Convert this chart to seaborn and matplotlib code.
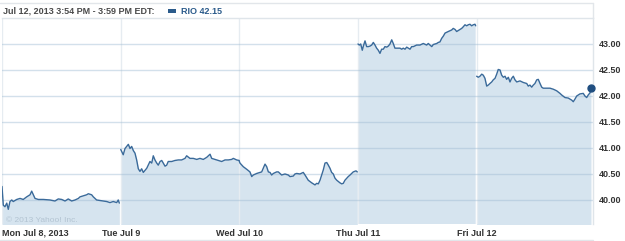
import matplotlib
matplotlib.use("Agg")
import matplotlib.pyplot as plt
import seaborn as sns
import pandas as pd
from matplotlib.lines import Line2D
from matplotlib.patches import Rectangle

# ---- data (time in trading days since Mon open, price in USD) ----
mon_t = [0.000, 0.011, 0.025, 0.040, 0.053, 0.067, 0.082, 0.095, 0.124, 0.152, 0.179, 0.208,
         0.236, 0.250, 0.264, 0.278, 0.306, 0.348, 0.404, 0.446, 0.474, 0.503, 0.531, 0.558,
         0.587, 0.615, 0.643, 0.657, 0.685, 0.713, 0.727, 0.755, 0.769, 0.797, 0.825, 0.853,
         0.882, 0.909, 0.937, 0.966, 0.979, 0.988]
mon_p = [40.26, 39.90, 39.87, 39.94, 39.82, 39.97, 40.00, 39.97, 40.01, 40.03, 40.01, 40.06,
         40.10, 40.17, 40.10, 40.03, 40.01, 40.01, 40.00, 39.98, 40.02, 40.01, 39.98, 40.02,
         39.98, 40.00, 40.03, 40.06, 40.08, 40.10, 40.12, 40.10, 40.06, 40.00, 39.99, 39.98,
         39.97, 39.95, 39.97, 39.95, 40.00, 39.94]

tue_t = [1.000, 1.021, 1.036, 1.064, 1.078, 1.092, 1.106, 1.120, 1.134, 1.148, 1.162, 1.176,
         1.190, 1.219, 1.246, 1.261, 1.274, 1.288, 1.303, 1.316, 1.331, 1.345, 1.358, 1.373,
         1.387, 1.400, 1.429, 1.457, 1.485, 1.513, 1.541, 1.555, 1.583, 1.611, 1.640, 1.667,
         1.695, 1.724, 1.752, 1.766, 1.794, 1.822, 1.850, 1.878, 1.906, 1.934, 1.948, 1.976,
         1.996]
tue_p = [40.97, 40.87, 40.99, 41.07, 40.99, 41.03, 40.95, 40.90, 40.77, 40.60, 40.55, 40.60,
         40.53, 40.61, 40.74, 40.71, 40.85, 40.77, 40.71, 40.67, 40.74, 40.76, 40.71, 40.65,
         40.67, 40.74, 40.74, 40.76, 40.77, 40.77, 40.80, 40.85, 40.80, 40.80, 40.78, 40.80,
         40.78, 40.82, 40.88, 40.80, 40.78, 40.76, 40.74, 40.77, 40.77, 40.78, 40.80, 40.77,
         40.76]

wed_t = [1.996, 2.004, 2.032, 2.061, 2.088, 2.103, 2.116, 2.145, 2.173, 2.187, 2.200, 2.215,
         2.229, 2.243, 2.257, 2.271, 2.285, 2.313, 2.327, 2.341, 2.355, 2.383, 2.411, 2.425,
         2.453, 2.467, 2.482, 2.509, 2.537, 2.552, 2.579, 2.608, 2.636, 2.650, 2.664, 2.678,
         2.692, 2.706, 2.720, 2.735, 2.748, 2.762, 2.776, 2.790, 2.804, 2.819, 2.846, 2.861,
         2.874, 2.888, 2.916, 2.931, 2.958, 2.981, 2.992]
wed_p = [40.76, 40.71, 40.64, 40.59, 40.54, 40.45, 40.48, 40.51, 40.53, 40.54, 40.61, 40.69,
         40.64, 40.54, 40.53, 40.48, 40.51, 40.54, 40.54, 40.51, 40.48, 40.50, 40.48, 40.45,
         40.46, 40.50, 40.51, 40.50, 40.53, 40.48, 40.38, 40.33, 40.29, 40.32, 40.31, 40.38,
         40.48, 40.58, 40.71, 40.72, 40.67, 40.61, 40.53, 40.50, 40.42, 40.38, 40.33, 40.31,
         40.32, 40.38, 40.45, 40.48, 40.54, 40.56, 40.54]

thu_t = [2.998, 3.009, 3.021, 3.034, 3.043, 3.057, 3.071, 3.085, 3.099, 3.113, 3.127, 3.141,
         3.155, 3.169, 3.183, 3.197, 3.211, 3.225, 3.240, 3.253, 3.267, 3.282, 3.295, 3.309,
         3.324, 3.352, 3.366, 3.379, 3.394, 3.408, 3.422, 3.436, 3.450, 3.464, 3.492, 3.520,
         3.548, 3.576, 3.590, 3.604, 3.619, 3.632, 3.661, 3.674, 3.688, 3.703, 3.716, 3.731,
         3.758, 3.787, 3.800, 3.815, 3.829, 3.843, 3.857, 3.871, 3.884, 3.899, 3.913, 3.927,
         3.941, 3.955, 3.969, 3.983, 3.989]
thu_p = [43.00, 42.98, 43.00, 42.88, 42.96, 43.06, 42.95, 42.95, 42.96, 42.98, 43.03, 42.98,
         42.92, 42.88, 42.82, 42.90, 42.90, 42.95, 42.94, 42.96, 43.00, 43.08, 43.01, 42.92,
         42.92, 42.92, 42.90, 42.92, 42.90, 42.94, 42.92, 42.90, 42.95, 42.95, 42.98, 42.98,
         43.01, 42.98, 43.01, 42.98, 42.95, 42.99, 43.01, 43.03, 43.04, 43.11, 43.15, 43.21,
         43.24, 43.27, 43.30, 43.28, 43.24, 43.26, 43.28, 43.30, 43.33, 43.37, 43.35, 43.37,
         43.38, 43.35, 43.37, 43.38, 43.35]

fri_t = [3.997, 4.011, 4.025, 4.040, 4.053, 4.067, 4.082, 4.095, 4.109, 4.124, 4.137, 4.152,
         4.166, 4.179, 4.194, 4.208, 4.222, 4.236, 4.250, 4.264, 4.278, 4.292, 4.306, 4.320,
         4.335, 4.362, 4.390, 4.419, 4.432, 4.446, 4.461, 4.474, 4.488, 4.503, 4.516, 4.531,
         4.545, 4.558, 4.587, 4.615, 4.643, 4.671, 4.699, 4.713, 4.741, 4.769, 4.798, 4.811,
         4.825, 4.840, 4.867, 4.895, 4.909, 4.924, 4.937, 4.952, 4.960]
fri_p = [42.38, 42.36, 42.38, 42.42, 42.40, 42.34, 42.19, 42.21, 42.24, 42.27, 42.31, 42.34,
         42.42, 42.51, 42.50, 42.40, 42.36, 42.38, 42.32, 42.36, 42.27, 42.34, 42.38, 42.31,
         42.27, 42.29, 42.26, 42.24, 42.19, 42.21, 42.17, 42.21, 42.24, 42.31, 42.32, 42.24,
         42.17, 42.15, 42.15, 42.15, 42.13, 42.10, 42.05, 42.02, 41.97, 41.96, 41.92, 41.89,
         41.94, 42.00, 42.04, 42.05, 42.00, 41.97, 42.02, 42.06, 42.15]

day_names = ["Mon", "Tue", "Wed", "Thu", "Fri"]
x_tick_pos = [0, 1, 2, 3, 4]
x_tick_labels = ["Mon Jul 8, 2013", "Tue Jul 9", "Wed Jul 10", "Thu Jul 11", "Fri Jul 12"]
y_ticks = [40.0, 40.5, 41.0, 41.5, 42.0, 42.5, 43.0]
last_price = 42.15
symbol = "RIO"
header_text = "Jul 12, 2013 3:54 PM - 3:59 PM EDT:"
credit = "\u00a9 2013 Yahoo! Inc."

# ---- build table ----
frames = []
for name, t, p in zip(day_names, [mon_t, tue_t, wed_t, thu_t, fri_t],
                      [mon_p, tue_p, wed_p, thu_p, fri_p]):
    frames.append(pd.DataFrame({"t": t, "price": p, "day": name}))
df = pd.concat(frames, ignore_index=True)

# ---- style ----
sns.set_theme(style="white")
plt.rcParams["font.family"] = ["Liberation Sans", "DejaVu Sans"]
plt.rcParams["axes.axisbelow"] = "line"

W, H = 625, 241
fig = plt.figure(figsize=(W / 100, H / 100), dpi=100)
fig.patch.set_facecolor("white")

def fx(px):
    return px / W

def fy(py):
    return 1 - py / H

ax = fig.add_axes([fx(2), fy(224), fx(593) - fx(2), fy(18) - fy(224)])
ax.set_facecolor("white")

LINE = "#3a6a9a"
FILL = "#d6e4ef"
YMIN, YMAX = 39.538, 43.5

for name, g in df.groupby("day", sort=False):
    ax.fill_between(g["t"], g["price"], YMIN - 1, color=FILL, lw=0, zorder=1)

sns.lineplot(data=df, x="t", y="price", units="day", estimator=None, color=LINE,
             linewidth=1.0, ax=ax, legend=False, zorder=3)

# last price dot
ax.plot([fri_t[-1]], [last_price], marker="o", markersize=5.0, color="#1f4e80",
        clip_on=False, zorder=4, linestyle="none")

ax.set_xlim(0, 4.977)
ax.set_ylim(YMIN, YMAX)

# grid
ax.set_yticks(y_ticks)
ax.set_yticklabels([f"{v:.2f}" for v in y_ticks])
ax.yaxis.tick_right()
ax.set_xticks(x_tick_pos)
ax.set_xticklabels(x_tick_labels)
ax.yaxis.grid(True, color="#9fbcd4", alpha=0.45, linewidth=1.0)
ax.xaxis.grid(True, color="#e6ecf1", linewidth=1.0)

ax.tick_params(axis="both", length=0, labelsize=6.5, labelcolor="#333333")
ax.tick_params(axis="y", pad=4)
ax.tick_params(axis="x", pad=3.5)
for lab in ax.get_yticklabels() + ax.get_xticklabels():
    lab.set_fontweight("bold")
ax.get_xticklabels()[0].set_horizontalalignment("left")
ax.set_xlabel("")
ax.set_ylabel("")

for side in ["left", "bottom"]:
    ax.spines[side].set_visible(False)
for side in ["top", "right"]:
    ax.spines[side].set_color("#dfe5ea")
    ax.spines[side].set_linewidth(1.0)

# watermark
ax.text(0.035, 39.6, credit, fontsize=6, color="#b3c4d2", ha="left", va="center", zorder=2)

# frame lines outside the axes
fig.add_artist(Line2D([0, fx(593)], [fy(3), fy(3)], color="#e2e6ea", lw=1.0))
fig.add_artist(Line2D([fx(593), fx(593)], [fy(3), fy(18)], color="#e2e6ea", lw=1.0))
fig.add_artist(Line2D([0, fx(593)], [fy(240), fy(240)], color="#e2e6ea", lw=1.0))

# header
fig.text(fx(3), fy(11), header_text, fontsize=6.5, fontweight="bold", color="#4a4a4a",
         ha="left", va="center")
fig.add_artist(Rectangle((fx(168), fy(12.5)), fx(8), fy(9.5) - fy(12.5),
                         facecolor="#2b5b8b", edgecolor="none"))
fig.text(fx(181), fy(11), f"{symbol} {last_price:.2f}", fontsize=6.5, fontweight="bold",
         color="#2b5b8b", ha="left", va="center")

fig.savefig("out.png", dpi=100, facecolor="white")
